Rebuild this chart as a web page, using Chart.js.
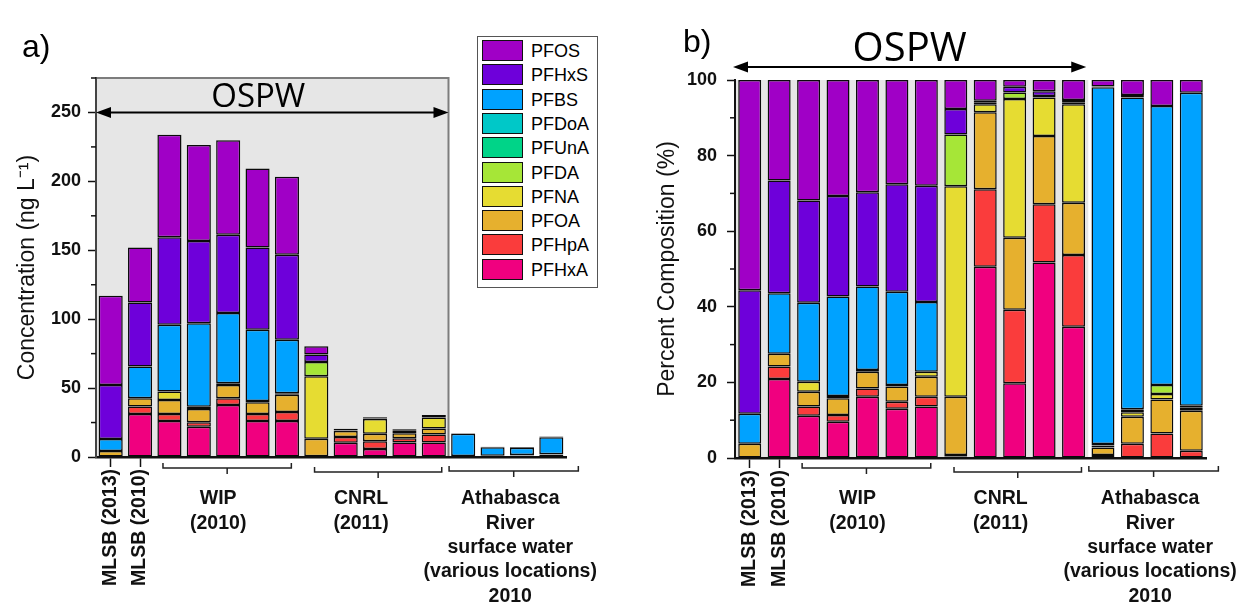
<!DOCTYPE html>
<html><head><meta charset="utf-8">
<script src="https://cdn.jsdelivr.net/npm/chart.js@4.4.1/dist/chart.umd.min.js"></script>
<style>
html,body{margin:0;padding:0;background:#fff;}
#wrap{position:relative;width:1237px;height:604px;overflow:hidden;background:#fff;}
#ca{position:absolute;left:0;top:0;}
#cb{position:absolute;left:618px;top:0;}
#legend{position:absolute;left:477px;top:36px;width:119px;height:250px;border:1.5px solid #555;background:#fff;font-family:"Liberation Sans",Arial,sans-serif;font-size:18px;color:#000;}
.li{position:absolute;left:4px;height:22px;width:112px;}
.sw{position:absolute;left:0;top:0;width:39px;height:19px;border:1.5px solid #111;}
.lt{position:absolute;left:49px;top:0;line-height:22px;white-space:nowrap;}
</style></head>
<body><div id="wrap">
<canvas id="ca" width="618" height="604"></canvas>
<canvas id="cb" width="619" height="604"></canvas>
<div id="legend"></div>
</div>
<script>
// ---------------- DATA ----------------
const categories = ['MLSB (2013)','MLSB (2010)','WIP 1','WIP 2','WIP 3','WIP 4','WIP 5',
  'CNRL 1','CNRL 2','CNRL 3','CNRL 4','CNRL 5','AR 1','AR 2','AR 3','AR 4'];
const tickLabels = ['MLSB (2013)','MLSB (2010)','','','','','','','','','','','','','',''];
const groupLabels = [['WIP','(2010)'],['CNRL','(2011)'],['Athabasca','River','surface water','(various locations)','2010']];
const groupRanges = [[2,6],[7,11],[12,15]];
const compounds = ['PFHxA','PFHpA','PFOA','PFNA','PFDA','PFUnA','PFDoA','PFBS','PFHxS','PFOS'];
const colors = ['#F0007F','#FA3C3C','#E6B02E','#E6DC32','#A6E637','#00D488','#00C8C8','#00A2FF','#6E00DA','#A000C6'];

// Concentration (ng/L), panel a
const concPFHxA = [0, 31.2, 26.2, 22.0, 37.8, 26.2, 26.2, 0.3, 10.4, 5.8, 10.5, 10.6, 0, 0, 0, 0];
const concPFHpA = [0, 5.4, 5.0, 3.2, 4.8, 5.0, 6.5, 0.2, 4.2, 5.6, 3.1, 5.8, 0.14, 0.29, 0.47, 0.28];
const concPFOA  = [4.4, 6.0, 10.2, 9.7, 9.7, 8.6, 12.4, 12.8, 4.2, 5.5, 3.7, 4.2, 0.35, 0.53, 0.65, 1.57];
const concPFNA  = [0, 0, 6.1, 1.5, 1.3, 0.8, 1.2, 45.3, 0.4, 10.6, 2.1, 8.0, 0.1, 0.09, 0.1, 0.12];
const concPFDA  = [0, 0, 0, 0, 0, 0, 0, 10.4, 0.1, 0.5, 0.1, 0.15, 0.07, 0.06, 0.17, 0.07];
const concPFUnA = [0, 0, 0, 0, 0, 0, 0, 0, 0, 0, 0, 0, 0, 0, 0, 0];
const concPFDoA = [0, 0, 0, 0, 0, 0, 0, 0, 0, 0, 0, 0, 0, 0, 0, 0];
const concPFBS  = [8.7, 23.0, 48.4, 60.6, 50.8, 51.7, 38.7, 0, 0, 0, 0, 0, 16.2, 6.19, 5.31, 12.26];
const concPFHxS = [39.2, 46.5, 63.5, 59.8, 56.9, 59.8, 61.8, 5.3, 0.1, 0.4, 0.2, 0.2, 0.04, 0.05, 0, 0];
const concPFOS  = [64.7, 40.0, 74.4, 69.5, 68.6, 57.2, 56.5, 6.1, 1.1, 0.6, 0.6, 1.6, 0.3, 0.3, 0.5, 0.5];

// Percent composition (%), panel b
const pctPFHxA = [0, 20.9, 11.2, 9.6, 16.2, 13.0, 13.6, 0.4, 50.6, 19.8, 51.7, 34.7, 0, 0, 0, 0];
const pctPFHpA = [0, 3.3, 2.4, 1.8, 2.2, 1.9, 2.6, 0.4, 20.5, 19.4, 15.4, 19.0, 0.8, 3.8, 6.5, 1.9];
const pctPFOA  = [3.8, 3.4, 3.9, 4.4, 4.4, 4.0, 5.3, 15.4, 20.4, 19.1, 18.1, 13.8, 2.0, 7.1, 9.0, 10.6];
const pctPFNA  = [0, 0, 2.7, 0.6, 0.5, 0.4, 1.3, 55.7, 2.1, 36.7, 10.2, 26.1, 0.5, 1.2, 1.4, 0.8];
const pctPFDA  = [0, 0, 0, 0, 0, 0, 0, 13.7, 0.4, 1.7, 0.4, 0.5, 0.4, 0.8, 2.4, 0.5];
const pctPFUnA = [0, 0, 0, 0, 0, 0, 0, 0, 0, 0, 0, 0, 0, 0, 0, 0];
const pctPFDoA = [0, 0, 0, 0, 0, 0, 0, 0, 0, 0, 0, 0, 0, 0, 0, 0];
const pctPFBS  = [7.9, 16.0, 20.9, 26.3, 22.1, 24.7, 18.5, 0, 0, 0, 0, 0, 94.4, 82.5, 73.8, 82.8];
const pctPFHxS = [32.7, 29.8, 27.0, 26.6, 24.9, 28.4, 30.7, 6.7, 0.5, 1.5, 1.2, 0.6, 0.2, 0.6, 0, 0];
const pctPFOS  = [55.6, 26.6, 31.9, 30.7, 29.7, 27.6, 28.0, 7.7, 5.5, 1.8, 3.0, 5.3, 1.7, 4.0, 6.9, 3.4];

const concSeries = [concPFHxA, concPFHpA, concPFOA, concPFNA, concPFDA, concPFUnA, concPFDoA, concPFBS, concPFHxS, concPFOS];
const pctSeries  = [pctPFHxA, pctPFHpA, pctPFOA, pctPFNA, pctPFDA, pctPFUnA, pctPFDoA, pctPFBS, pctPFHxS, pctPFOS];

// ---------------- LAYOUT / STYLE ----------------
const FONT = '"Liberation Sans", Arial, Helvetica, sans-serif';
const bracketPad = [[0.22, 0.15], [0.06, 0.27], [0.48, 0.92]];
const textDx = [-10, -14, 3];
const bracketY = [468, 472, 471];

const decoPlugin = {
  id: 'deco',
  beforeDraw(chart, args, o) {
    const {ctx, chartArea: ca, scales: {x}} = chart;
    const xr = (x.getPixelForValue(o.ospwEnd) + x.getPixelForValue(o.ospwEnd + 1)) / 2;
    ctx.save();
    ctx.fillStyle = '#e6e6e6';
    ctx.fillRect(ca.left, ca.top, xr - ca.left, ca.bottom - ca.top);
    if (o.boxBorder) {
      ctx.strokeStyle = '#7d7d7d'; ctx.lineWidth = 2;
      ctx.beginPath(); ctx.moveTo(ca.left, ca.top); ctx.lineTo(xr, ca.top); ctx.lineTo(xr, ca.bottom); ctx.stroke();
    }
    ctx.restore();
  },
  afterDraw(chart, args, o) {
    const {ctx, chartArea: ca, scales: {x, y}} = chart;
    ctx.save();
    // minor y ticks
    ctx.strokeStyle = '#111'; ctx.lineWidth = 1.5;
    for (let v = o.minor; v <= y.max + 0.001; v += 2 * o.minor) {
      const py = y.getPixelForValue(v);
      ctx.beginPath(); ctx.moveTo(ca.left - 5, py); ctx.lineTo(ca.left, py); ctx.stroke();
    }
    // OSPW arrow
    const xr = (x.getPixelForValue(o.ospwEnd) + x.getPixelForValue(o.ospwEnd + 1)) / 2 + o.arrowDxR;
    const xl = ca.left + o.arrowDxL;
    const ay = o.arrowValue != null ? y.getPixelForValue(o.arrowValue) : o.arrowY;
    ctx.strokeStyle = '#000'; ctx.fillStyle = '#000'; ctx.lineWidth = 2;
    ctx.beginPath(); ctx.moveTo(xl + 8, ay); ctx.lineTo(xr - 8, ay); ctx.stroke();
    ctx.beginPath(); ctx.moveTo(xl, ay); ctx.lineTo(xl + 15, ay - 5.5); ctx.lineTo(xl + 15, ay + 5.5); ctx.closePath(); ctx.fill();
    ctx.beginPath(); ctx.moveTo(xr, ay); ctx.lineTo(xr - 15, ay - 5.5); ctx.lineTo(xr - 15, ay + 5.5); ctx.closePath(); ctx.fill();
    ctx.font = o.ospwSize + 'px "Open Sans", ' + FONT;
    ctx.textAlign = 'center'; ctx.textBaseline = 'alphabetic';
    ctx.fillText('OSPW', (xl + xr) / 2 + o.ospwDx, o.ospwBase);
    // group brackets & labels
    const step = x.getPixelForValue(1) - x.getPixelForValue(0);
    ctx.strokeStyle = '#222'; ctx.lineWidth = 1.5; ctx.fillStyle = '#111';
    groupRanges.forEach((r, gi) => {
      const c1 = x.getPixelForValue(r[0]), c2 = x.getPixelForValue(r[1]);
      const x1 = c1 - bracketPad[gi][0] * step, x2 = c2 + bracketPad[gi][1] * step;
      const by = bracketY[gi];
      ctx.beginPath(); ctx.moveTo(x1, by - 5); ctx.lineTo(x1, by); ctx.lineTo(x2, by); ctx.lineTo(x2, by - 5); ctx.stroke();
      const xm = (x1 + x2) / 2;
      ctx.beginPath(); ctx.moveTo(xm, by); ctx.lineTo(xm, by + 6); ctx.stroke();
      ctx.font = 'bold 19.5px ' + FONT;
      ctx.textAlign = 'center'; ctx.textBaseline = 'middle';
      groupLabels[gi].forEach((t, li) => ctx.fillText(t, (c1 + c2) / 2 + textDx[gi], 499 + li * 24.3));
    });
    // panel letter
    ctx.font = '32px ' + FONT; ctx.textAlign = 'left'; ctx.textBaseline = 'alphabetic'; ctx.fillStyle = '#000';
    ctx.fillText(o.letter, o.letterX, o.letterY);
    ctx.restore();
  }
};

function buildDatasets(series, barPct) {
  return compounds.map((name, i) => ({
    label: name,
    data: series[i].map(v => (v === 0 ? null : v)), // empty segments are not drawn
    backgroundColor: colors[i], borderColor: '#0a0a0a',
    borderWidth: 1.5, borderSkipped: false, inflateAmount: 0,
    barPercentage: barPct, categoryPercentage: 1
  }));
}

function makeChart(id, series, cfg) {
  return new Chart(document.getElementById(id), {
    type: 'bar',
    data: { labels: categories, datasets: buildDatasets(series, cfg.barPct) },
    plugins: [decoPlugin],
    options: {
      responsive: false, animation: false, devicePixelRatio: 1,
      layout: { padding: { top: cfg.top, right: cfg.right, left: 0, bottom: 0 } },
      plugins: { legend: { display: false }, tooltip: { enabled: false }, deco: cfg.deco },
      scales: {
        x: {
          stacked: true, offset: true,
          grid: { display: true, drawOnChartArea: false, offset: false, tickLength: 10, tickWidth: 1.5,
                  tickColor: c => (c.index < 2 ? '#111' : 'rgba(0,0,0,0)') },
          border: { display: true, color: '#111', width: 2.5 },
          ticks: { autoSkip: false, maxRotation: 90, minRotation: 90, padding: 2, color: '#111',
                   font: { family: FONT, size: 19.5, weight: 'bold' }, callback: (v, i) => tickLabels[i] },
          afterFit: s => { s.height = cfg.xHeight; }
        },
        y: {
          stacked: true, min: 0, max: cfg.max,
          ticks: { stepSize: cfg.step, padding: cfg.tickPad, color: '#111', font: { family: FONT, size: 18, weight: 'bold' } },
          afterBuildTicks: s => { s.ticks = s.ticks.filter(t => Math.abs(t.value % cfg.step) < 1e-6); },
          grid: { display: true, drawOnChartArea: false, tickLength: 8, tickWidth: 1.5, tickColor: '#111' },
          border: { display: true, color: cfg.axisColor, width: 2 },
          title: { display: true, text: cfg.title, color: '#111', font: { family: FONT, size: 23 },
                   padding: { top: cfg.titlePad, bottom: 0 } },
          afterFit: s => { s.width = cfg.yWidth; }
        }
      }
    }
  });
}

makeChart('ca', concSeries, {
  barPct: 0.82, top: 78, right: 52, xHeight: 147, yWidth: 96, max: 275, step: 50, tickPad: 7,
  axisColor: '#444', title: 'Concentration (ng L⁻¹)', titlePad: 14,
  deco: { ospwEnd: 11, boxBorder: true, minor: 25, arrowValue: 250, arrowDxL: 0, arrowDxR: 0,
          ospwSize: 33, ospwDx: -14, ospwBase: 107, letter: 'a)', letterX: 22, letterY: 57 }
});
makeChart('cb', pctSeries, {
  barPct: 0.78, top: 80, right: 31, xHeight: 146, yWidth: 117, max: 100, step: 20, tickPad: 10,
  axisColor: '#111', title: 'Percent Composition (%)', titlePad: 36,
  deco: { ospwEnd: 11, boxBorder: false, minor: 10, arrowValue: null, arrowY: 67, arrowDxL: -2, arrowDxR: -2,
          ospwSize: 40, ospwDx: 0, ospwBase: 61, letter: 'b)', letterX: 65, letterY: 52 }
});

// HTML legend (top PFOS -> bottom PFHxA)
const leg = document.getElementById('legend');
compounds.slice().reverse().forEach((name, i) => {
  const ci = compounds.indexOf(name);
  const row = document.createElement('div');
  row.className = 'li'; row.style.top = (3 + i * 24.3) + 'px';
  const sw = document.createElement('div'); sw.className = 'sw'; sw.style.background = colors[ci];
  const tx = document.createElement('div'); tx.className = 'lt'; tx.textContent = name;
  row.appendChild(sw); row.appendChild(tx); leg.appendChild(row);
});
</script>
</body></html>
